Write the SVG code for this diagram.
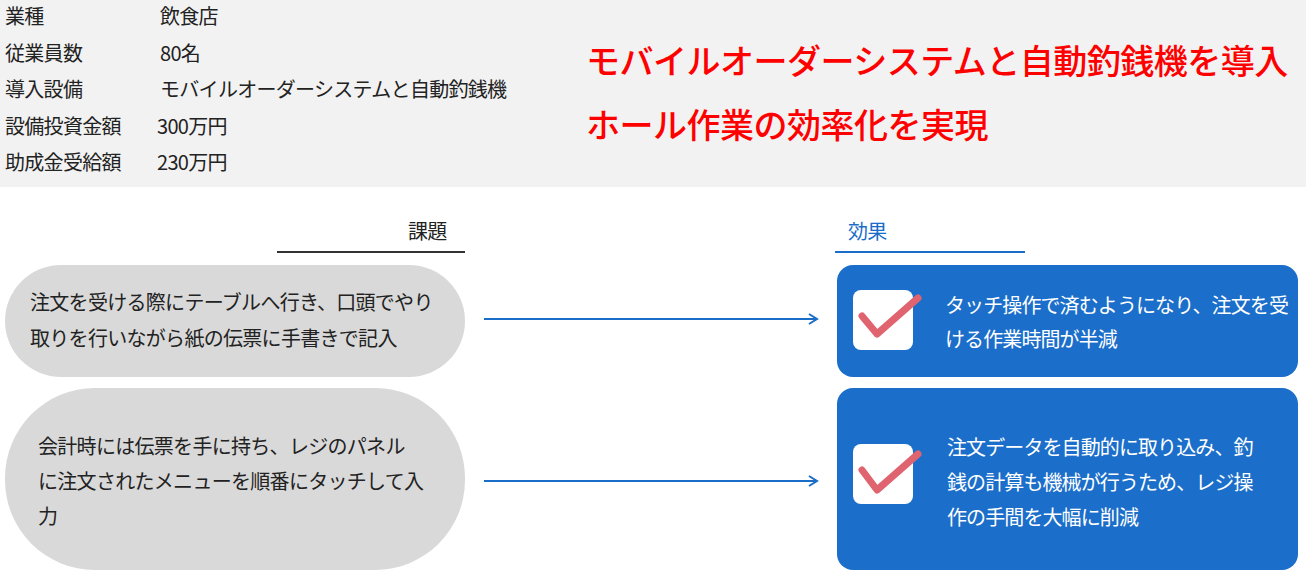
<svg xmlns="http://www.w3.org/2000/svg" width="1306" height="575" viewBox="0 0 1306 575">
<style>
text{font-family:"Noto Sans CJK JP","Noto Sans",sans-serif}
.i{font-size:20px;fill:#222;letter-spacing:-0.7px}
.r{font-size:34px;fill:#ff0000;font-weight:500;letter-spacing:-0.5px}
.d{font-size:20px;fill:#222;letter-spacing:-0.7px}
.w{font-size:20px;fill:#fff;letter-spacing:-0.9px}
.c{stroke:#1a6dc8;stroke-width:2;fill:none}
.ck{stroke:#e06470;stroke-width:7;fill:none;stroke-linecap:round;stroke-linejoin:round}
</style>
<defs><marker id="a" markerWidth="12" markerHeight="12" refX="10" refY="6" orient="auto" markerUnits="userSpaceOnUse"><path d="M2,1 L10,6 L2,11" stroke="#1a6dc8" stroke-width="2" fill="none"/></marker></defs>
<rect width="1306" height="187" fill="#f2f2f2"/>
<g id="info">
<text class="i" x="5" y="24">業種</text><text class="i" x="160" y="24">飲食店</text>
<text class="i" x="5" y="61">従業員数</text><text class="i" x="160" y="61">80名</text>
<text class="i" x="5" y="97">導入設備</text><text class="i" x="160" y="97">モバイルオーダーシステムと自動釣銭機</text>
<text class="i" x="5" y="134">設備投資金額</text><text class="i" x="157" y="134">300万円</text>
<text class="i" x="5" y="170">助成金受給額</text><text class="i" x="157" y="170">230万円</text>
</g>
<g id="title"><text class="r" x="586" y="74">モバイルオーダーシステムと自動釣銭機を導入</text>
<text class="r" x="586" y="138">ホール作業の効率化を実現</text></g>
<g id="h1"><text class="d" x="408" y="239">課題</text><line x1="277" y1="252" x2="465" y2="252" stroke="#333" stroke-width="2"/></g>
<g id="h2"><text class="d" x="848" y="239" style="fill:#1a6dc8">効果</text><line x1="835" y1="252" x2="1025" y2="252" stroke="#1a6dc8" stroke-width="2"/></g>
<g id="p1"><rect x="5" y="265" width="460" height="112" rx="56" fill="#d9d9d9"/>
<text class="d" x="30" y="310">注文を受ける際にテーブルへ行き、口頭でやり</text>
<text class="d" x="30" y="346">取りを行いながら紙の伝票に手書きで記入</text></g>
<g id="p2"><rect x="5" y="388" width="460" height="182" rx="90" fill="#d9d9d9"/>
<text class="d" x="38" y="454">会計時には伝票を手に持ち、レジのパネル</text>
<text class="d" x="38" y="489">に注文されたメニューを順番にタッチして入</text>
<text class="d" x="38" y="524">力</text></g>
<g id="e1"><rect x="837" y="265" width="461" height="112" rx="16" fill="#1b6ec9"/>
<rect x="853" y="290" width="60" height="60" rx="8" fill="#fff"/>
<path class="ck" d="M862,316 L877,334 L918,298"/>
<text class="w" x="945" y="313">タッチ操作で済むようになり、注文を受</text>
<text class="w" x="945" y="347">ける作業時間が半減</text></g>
<g id="e2"><rect x="837" y="388" width="461" height="182" rx="16" fill="#1b6ec9"/>
<rect x="853" y="444" width="60" height="60" rx="8" fill="#fff"/>
<path class="ck" d="M862,470 L877,490 L918,454"/>
<text class="w" x="947" y="455">注文データを自動的に取り込み、釣</text>
<text class="w" x="947" y="490">銭の計算も機械が行うため、レジ操</text>
<text class="w" x="947" y="525">作の手間を大幅に削減</text></g>
<g id="connectors">
<line class="c" x1="484" y1="319" x2="817" y2="319" marker-end="url(#a)"/>
<line class="c" x1="484" y1="481" x2="817" y2="481" marker-end="url(#a)"/>
</g>
</svg>
